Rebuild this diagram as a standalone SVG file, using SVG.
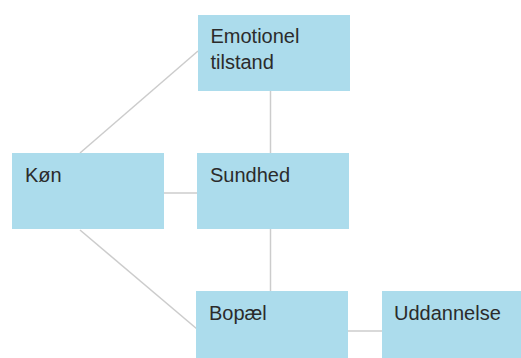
<svg xmlns="http://www.w3.org/2000/svg" width="521" height="358" viewBox="0 0 521 358">
<style>
.box{fill:#acdcec}
.lbl{font-family:"Liberation Sans",Arial,sans-serif;font-size:20px;fill:#2b2b2b}
.edge{stroke:#cccccc;stroke-width:1.5;fill:none}
</style>
<rect width="521" height="358" fill="#ffffff"/>
<g id="connectors">
<line class="edge" x1="80" y1="153" x2="198" y2="51"/>
<line class="edge" x1="270.5" y1="91" x2="270.5" y2="153"/>
<line class="edge" x1="164" y1="193" x2="197" y2="193"/>
<line class="edge" x1="270.5" y1="229" x2="270.5" y2="291"/>
<line class="edge" x1="80" y1="230" x2="197" y2="329"/>
<line class="edge" x1="348" y1="331" x2="382" y2="331"/>
</g>
<g id="emotionel">
<rect class="box" x="198" y="15" width="152" height="76"/>
<text class="lbl" x="210.5" y="43">Emotionel</text>
<text class="lbl" x="210.5" y="69">tilstand</text>
</g>
<g id="kon">
<rect class="box" x="12" y="153" width="152" height="76"/>
<text class="lbl" x="25" y="182">Køn</text>
</g>
<g id="sundhed">
<rect class="box" x="197" y="153" width="152" height="76"/>
<text class="lbl" x="210" y="182">Sundhed</text>
</g>
<g id="bopael">
<rect class="box" x="196" y="291" width="152" height="76"/>
<text class="lbl" x="209" y="320">Bopæl</text>
</g>
<g id="uddannelse">
<rect class="box" x="382" y="291" width="152" height="76"/>
<text class="lbl" x="394" y="320">Uddannelse</text>
</g>
</svg>
